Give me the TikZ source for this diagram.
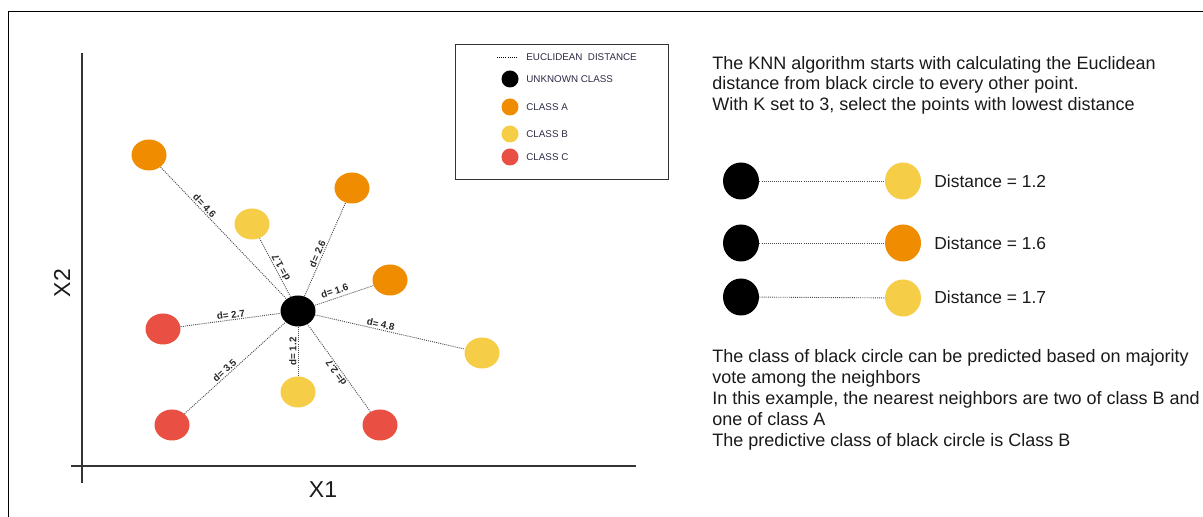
\documentclass[tikz,border=0pt]{standalone}
\usepackage{fontspec}
\setmainfont{Liberation Sans}
\usetikzlibrary{shapes.geometric, positioning}
\definecolor{classa}{HTML}{F08C00}
\definecolor{classb}{HTML}{F6CD46}
\definecolor{classc}{HTML}{E94F43}
\definecolor{textcol}{HTML}{1A1A1A}
\definecolor{legendtext}{HTML}{2B2B45}

\begin{document}
\begin{tikzpicture}[x=0.5pt, y=-0.5pt,
    pt/.style={ellipse, minimum width=17.5pt, minimum height=15.5pt, inner sep=0pt},
    bigpt/.style={ellipse, minimum width=18pt, minimum height=18.5pt, inner sep=0pt},
    legpt/.style={circle, minimum size=8.5pt, inner sep=0pt},
    unknown/.style={fill=black},
    clsa/.style={fill=classa},
    clsb/.style={fill=classb},
    clsc/.style={fill=classc},
    dist/.style={draw=black!70, line width=0.45pt, dash pattern=on 0.5pt off 0.55pt},
    lbl/.style={font=\bfseries\fontsize{4.9}{5}\selectfont, text=black!85, inner sep=0.6pt, sloped},
    legtxt/.style={font=\fontsize{4.9}{5}\selectfont, text=legendtext, anchor=west, inner sep=0pt},
    txt/.style={font=\fontsize{9}{10.2}\selectfont, text=textcol, align=left, inner sep=0pt},
    axlbl/.style={font=\fontsize{11.5}{12}\selectfont, text=textcol},
    axis/.style={draw=black!80, line width=0.7pt},
]
\useasboundingbox (0,0) rectangle (1203,517);

% frame
\draw[line width=0.5pt] (8,517) -- (8,12) -- (1203,12);

% axes
\coordinate (ytop) at (82,53);
\coordinate (ybot) at (82,483);
\coordinate (xl) at (71,466);
\coordinate (xr) at (636,466);
\draw[axis] (ytop) -- (ybot);
\draw[axis] (xl) -- (xr);
\node[axlbl, rotate=90] (x2) at (62,283) {X2};
\node[axlbl] (x1) at (323,490) {X1};

% points
\node[pt, unknown] (u) at (298,311) {};
\node[pt, clsa] (a1) at (149,155) {};
\node[pt, clsa] (a2) at (352,188) {};
\node[pt, clsa] (a3) at (390,280) {};
\node[pt, clsb] (b1) at (252,224) {};
\node[pt, clsb] (b2) at (482,353) {};
\node[pt, clsb] (b3) at (298,392) {};
\node[pt, clsc] (c1) at (163,329) {};
\node[pt, clsc] (c2) at (172,425) {};
\node[pt, clsc] (c3) at (380,425) {};

% distances
\draw[dist] (a1) -- node[lbl, pos=0.32, above] {d= 4.6} (u);
\draw[dist] (u) -- node[lbl, pos=0.46, below, allow upside down] {d= 1.7} (b1);
\draw[dist] (u) -- node[lbl, pos=0.43, above] {d= 2.6} (a2);
\draw[dist] (u) -- node[lbl, pos=0.38, above=1pt] {d= 1.6} (a3);
\draw[dist] (c1) -- node[lbl, pos=0.51, above] {d= 2.7} (u);
\draw[dist] (u) -- node[lbl, pos=0.43, above] {d= 4.8} (b2);
\draw[dist] (c2) -- node[lbl, pos=0.43, above] {d= 3.5} (u);
\draw[dist] (b3) -- node[lbl, pos=0.5, above] {d= 1.2} (u);
\draw[dist] (c3) -- node[lbl, pos=0.48, above, allow upside down] {d= 2.7} (u);

% legend
\node[draw=black!80, line width=0.5pt, minimum width=106.5pt, minimum height=67.5pt] (legend) at (561.5,112.5) {};
\coordinate (ls) at (497,57);
\coordinate (le) at (517,57);
\draw[dist, draw=black] (ls) -- (le);
\node[legtxt] (l0) at (526,57) {EUCLIDEAN\ \ DISTANCE};
\node[legpt, unknown] (l1) at (510,79) {};
\node[legtxt] (t1) at (526,79) {UNKNOWN CLASS};
\node[legpt, clsa] (l2) at (510,107) {};
\node[legtxt] (t2) at (526,107) {CLASS A};
\node[legpt, clsb] (l3) at (510,134) {};
\node[legtxt] (t3) at (526,134) {CLASS B};
\node[legpt, clsc] (l4) at (510,157) {};
\node[legtxt] (t4) at (526,157) {CLASS C};

% explanation
\node[txt, anchor=north west] (intro) at (712,56) {The KNN algorithm starts with calculating the Euclidean\\distance from black circle to every other point.\\With K set to 3, select the points with lowest distance};

% nearest neighbours
\node[bigpt, unknown] (k1) at (741,181) {};
\node[bigpt, unknown] (k2) at (741,243) {};
\node[bigpt, unknown] (k3) at (741,297) {};
\node[bigpt, clsb] (n1) at (903,181) {};
\node[bigpt, clsa] (n2) at (903,243) {};
\node[bigpt, clsb] (n3) at (903,298) {};
\draw[dist] (k1) -- (n1);
\draw[dist] (k2) -- (n2);
\draw[dist] (k3) -- (n3);
\node[txt, anchor=west, font=\fontsize{8.7}{10}\selectfont] (d1) at (934,181) {Distance = 1.2};
\node[txt, anchor=west, font=\fontsize{8.7}{10}\selectfont] (d2) at (934,243) {Distance = 1.6};
\node[txt, anchor=west, font=\fontsize{8.7}{10}\selectfont] (d3) at (934,297) {Distance = 1.7};

% result
\node[txt, anchor=north west, font=\fontsize{9}{10.5}\selectfont] (vote) at (712,349) {The class of black circle can be predicted based on majority\\vote among the neighbors\\In this example, the nearest neighbors are two of class B and\\one of class A\\The predictive class of black circle is Class B};

\end{tikzpicture}
\end{document}
